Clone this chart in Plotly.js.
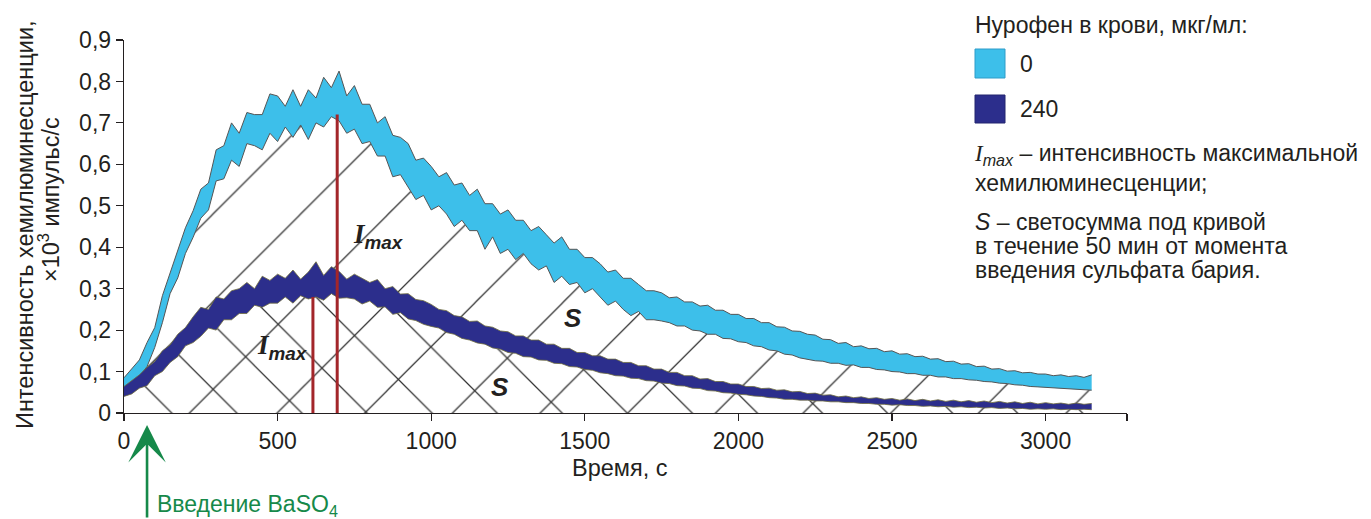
<!DOCTYPE html>
<html><head><meta charset="utf-8">
<script src="https://cdn.plot.ly/plotly-3.0.1.min.js"></script>
<style>html,body{margin:0;padding:0;background:#fff}#chart{width:1371px;height:519px}</style>
</head><body><div id="chart"></div>
<script>
// time, s
const timeSec = [
 0,25,50,75,100,125,150,175,200,225,
 250,275,300,325,350,375,400,425,450,475,
 500,525,550,575,600,625,650,675,700,725,
 750,775,800,825,850,875,900,925,950,975,
 1000,1025,1050,1075,1100,1125,1150,1175,1200,1225,
 1250,1275,1300,1325,1350,1375,1400,1425,1450,1475,
 1500,1525,1550,1575,1600,1625,1650,1675,1700,1725,
 1750,1775,1800,1825,1850,1875,1900,1925,1950,1975,
 2000,2025,2050,2075,2100,2125,2150,2175,2200,2225,
 2250,2275,2300,2325,2350,2375,2400,2425,2450,2475,
 2500,2525,2550,2575,2600,2625,2650,2675,2700,2725,
 2750,2775,2800,2825,2850,2875,2900,2925,2950,2975,
 3000,3025,3050,3075,3100,3125,3150];

// Nurofen 0 mcg/ml: lower and upper edge of the noisy band (x10^3 pulses/s)
const light0Low = [
 0.055,0.068,0.088,0.112,0.158,0.218,0.288,0.326,0.385,0.424,
 0.470,0.490,0.560,0.565,0.610,0.595,0.650,0.645,0.635,0.675,
 0.655,0.690,0.665,0.695,0.660,0.700,0.690,0.715,0.705,0.675,
 0.685,0.650,0.655,0.620,0.620,0.570,0.575,0.545,0.515,0.525,
 0.490,0.500,0.480,0.450,0.465,0.440,0.440,0.395,0.425,0.385,
 0.395,0.370,0.385,0.360,0.345,0.355,0.315,0.330,0.310,0.315,
 0.290,0.300,0.280,0.260,0.270,0.250,0.235,0.245,0.225,0.225,
 0.222,0.218,0.210,0.210,0.200,0.198,0.190,0.190,0.180,0.179,
 0.172,0.170,0.162,0.160,0.152,0.150,0.142,0.140,0.133,0.130,
 0.126,0.125,0.120,0.120,0.115,0.116,0.110,0.110,0.105,0.104,
 0.100,0.099,0.095,0.095,0.091,0.091,0.087,0.087,0.083,0.083,
 0.080,0.079,0.076,0.075,0.072,0.071,0.068,0.067,0.064,0.063,
 0.062,0.060,0.060,0.058,0.058,0.056,0.055];
const light0High = [
 0.085,0.106,0.128,0.170,0.206,0.283,0.338,0.394,0.447,0.488,
 0.540,0.555,0.635,0.645,0.700,0.675,0.725,0.720,0.720,0.770,
 0.765,0.740,0.780,0.740,0.780,0.760,0.810,0.785,0.825,0.765,
 0.790,0.745,0.745,0.700,0.715,0.670,0.665,0.650,0.610,0.615,
 0.595,0.570,0.580,0.550,0.555,0.525,0.540,0.505,0.505,0.480,
 0.490,0.465,0.465,0.440,0.450,0.430,0.410,0.425,0.395,0.395,
 0.375,0.375,0.360,0.340,0.345,0.325,0.325,0.310,0.295,0.295,
 0.290,0.278,0.280,0.268,0.268,0.258,0.260,0.248,0.248,0.238,
 0.238,0.228,0.228,0.218,0.218,0.208,0.207,0.198,0.197,0.190,
 0.188,0.178,0.177,0.168,0.170,0.160,0.162,0.155,0.156,0.148,
 0.150,0.142,0.143,0.136,0.137,0.130,0.131,0.124,0.125,0.118,
 0.119,0.112,0.113,0.106,0.107,0.101,0.102,0.097,0.098,0.094,
 0.094,0.090,0.092,0.088,0.090,0.086,0.092];

// Nurofen 240 mcg/ml
const dose240Low = [
 0.040,0.046,0.060,0.066,0.090,0.100,0.122,0.136,0.162,0.170,
 0.185,0.205,0.200,0.225,0.225,0.240,0.240,0.260,0.255,0.265,
 0.265,0.280,0.265,0.283,0.275,0.280,0.272,0.288,0.277,0.278,
 0.275,0.263,0.270,0.255,0.256,0.238,0.242,0.227,0.223,0.214,
 0.209,0.205,0.194,0.190,0.180,0.176,0.169,0.166,0.157,0.154,
 0.146,0.144,0.136,0.135,0.128,0.127,0.120,0.119,0.112,0.111,
 0.105,0.103,0.097,0.095,0.090,0.089,0.084,0.083,0.078,0.077,
 0.072,0.071,0.066,0.065,0.060,0.059,0.054,0.053,0.049,0.048,
 0.045,0.044,0.041,0.040,0.037,0.036,0.033,0.033,0.031,0.031,
 0.029,0.029,0.027,0.027,0.025,0.025,0.023,0.023,0.021,0.021,
 0.019,0.020,0.018,0.018,0.016,0.017,0.015,0.016,0.014,0.015,
 0.013,0.014,0.012,0.013,0.011,0.012,0.010,0.011,0.009,0.010,
 0.009,0.010,0.008,0.009,0.008,0.009,0.008];
const dose240High = [
 0.064,0.078,0.092,0.110,0.124,0.150,0.164,0.190,0.206,0.232,
 0.255,0.250,0.280,0.275,0.295,0.300,0.315,0.300,0.330,0.320,
 0.335,0.325,0.345,0.323,0.340,0.365,0.332,0.353,0.342,0.323,
 0.335,0.325,0.315,0.322,0.300,0.305,0.287,0.288,0.274,0.271,
 0.262,0.250,0.247,0.235,0.232,0.221,0.222,0.210,0.207,0.198,
 0.196,0.186,0.186,0.176,0.176,0.166,0.166,0.156,0.156,0.146,
 0.146,0.138,0.138,0.130,0.130,0.122,0.122,0.114,0.114,0.106,
 0.106,0.098,0.098,0.090,0.090,0.082,0.083,0.076,0.076,0.070,
 0.070,0.064,0.064,0.059,0.060,0.055,0.056,0.051,0.052,0.047,
 0.048,0.043,0.044,0.039,0.041,0.037,0.039,0.035,0.037,0.033,
 0.035,0.031,0.034,0.030,0.033,0.029,0.032,0.028,0.031,0.027,
 0.030,0.026,0.029,0.025,0.028,0.024,0.027,0.023,0.026,0.022,
 0.025,0.022,0.024,0.021,0.024,0.021,0.023];

// I max markers: time of maximum and its intensity (dose 0, dose 240)
const imaxTime = [694, 615];
const imaxValue = [0.72, 0.28];

const xTickVals = [0, 500, 1000, 1500, 2000, 2500, 3000, 3265];
const xTickText = ['0', '500', '1000', '1500', '2000', '2500', '3000', ''];
const yTickVals = [0, 0.1, 0.2, 0.3, 0.4, 0.5, 0.6, 0.7, 0.8, 0.9];
const yTickText = ['0', '0,1', '0,2', '0,3', '0,4', '0,5', '0,6', '0,7', '0,8', '0,9'];
const injectionTime = 75;

const FONT = '"Liberation Sans", Arial, sans-serif';
const SERIF = 'Liberation Serif';
const INK = '#231f20';
const CYAN = '#3dbfea';
const NAVY = '#2c2e8c';
const RED = '#a3262a';
const GREEN = '#16894a';

const base = {type: 'scatter', mode: 'lines', x: timeSec, hoverinfo: 'skip', showlegend: false};
const traces = [
  Object.assign({}, base, {y: light0Low, line: {width: 0}, fill: 'tozeroy', fillcolor: 'rgba(0,0,0,0)',
    fillpattern: {shape: '/', size: 62, solidity: 0.02, fgcolor: '#333333', bgcolor: 'rgba(0,0,0,0)', fillmode: 'replace'}}),
  Object.assign({}, base, {y: dose240Low, line: {width: 0}, fill: 'tozeroy', fillcolor: 'rgba(0,0,0,0)',
    fillpattern: {shape: '\\', size: 46, solidity: 0.027, fgcolor: '#333333', bgcolor: 'rgba(0,0,0,0)', fillmode: 'replace'}}),
  Object.assign({}, base, {y: light0Low, line: {color: '#555555', width: 1}}),
  Object.assign({}, base, {y: light0High, line: {color: '#555555', width: 1}, fill: 'tonexty', fillcolor: CYAN}),
  Object.assign({}, base, {y: dose240Low, line: {color: '#6d6b3c', width: 0.8}}),
  Object.assign({}, base, {y: dose240High, line: {color: '#6d6b3c', width: 0.8}, fill: 'tonexty', fillcolor: NAVY})
];
imaxTime.forEach(function (t, i) {
  traces.push({type: 'scatter', mode: 'lines', x: [t, t], y: [0, imaxValue[i]],
    line: {color: RED, width: 3}, hoverinfo: 'skip', showlegend: false});
});

const px = function (X) { return (X - 124) / 1003; };
const py = function (Y) { return (413 - Y) / 373; };

const txt = function (text, X, Y, opts) {
  return Object.assign({xref: 'paper', yref: 'paper', x: px(X), y: py(Y), text: text, showarrow: false,
    xanchor: 'left', yanchor: 'middle', font: {family: FONT, size: 23, color: INK}}, opts || {});
};

const imaxLabel = '<b><i><span style="font-family:' + SERIF + '">I</span><sub>max</sub></i></b>';

const annotations = [
  // y-axis title (two lines)
  txt('Интенсивность хемилюминесценции,', 25, 225, {xanchor: 'center', textangle: -90, font: {family: FONT, size: 23.5, color: INK}}),
  txt('×10<sup>3</sup> импульс/с', 49, 200, {xanchor: 'center', textangle: -90, font: {family: FONT, size: 23.5, color: INK}}),
  // x-axis title
  txt('Время, с', 620, 468, {xanchor: 'center', font: {family: FONT, size: 23.5, color: INK}}),
  // labels in plot
  {xref: 'x', yref: 'y', x: 827, y: 0.428, text: imaxLabel, showarrow: false, font: {family: FONT, size: 27, color: INK}},
  {xref: 'x', yref: 'y', x: 515, y: 0.16, text: imaxLabel, showarrow: false, font: {family: FONT, size: 27, color: INK}},
  {xref: 'x', yref: 'y', x: 1463, y: 0.23, text: '<b><i>S</i></b>', showarrow: false, font: {family: FONT, size: 26, color: INK}},
  {xref: 'x', yref: 'y', x: 1225, y: 0.062, text: '<b><i>S</i></b>', showarrow: false, font: {family: FONT, size: 26, color: INK}},
  // injection arrow
  {xref: 'x', yref: 'paper', x: injectionTime, y: py(425), ax: 0, ay: 96, axref: 'pixel', ayref: 'pixel',
    text: '', showarrow: true, arrowhead: 3, arrowsize: 2.4, arrowwidth: 2.6, arrowcolor: GREEN},
  txt('Введение BaSO<sub>4</sub>', 155, 505, {font: {family: FONT, size: 23, color: GREEN}}),
  // legend
  txt('Нурофен в крови, мкг/мл:', 973, 25),
  txt('0', 1018, 64),
  txt('240', 1018, 109),
  txt('<i><span style="font-family:' + SERIF + '">I</span><sub>max</sub></i> – интенсивность максимальной', 972, 154),
  txt('хемилюминесценции;', 973, 183),
  txt('<i>S</i> – светосумма под кривой', 973, 222),
  txt('в течение 50 мин от момента', 973, 246),
  txt('введения сульфата бария.', 973, 270)
];

const shapes = [
  {type: 'rect', xref: 'paper', yref: 'paper', x0: px(975), x1: px(1005), y0: py(78), y1: py(49),
    fillcolor: CYAN, line: {color: '#2f9cc9', width: 1}},
  {type: 'rect', xref: 'paper', yref: 'paper', x0: px(975), x1: px(1005), y0: py(123), y1: py(95),
    fillcolor: NAVY, line: {color: '#23256f', width: 1}}
];

const axisCommon = {ticks: 'outside', ticklen: 7, tickwidth: 1.2, tickcolor: INK, showline: true,
  linecolor: INK, linewidth: 1.3, showgrid: false, zeroline: false, fixedrange: true,
  tickfont: {family: FONT, size: 23, color: INK}};

const layout = {
  width: 1371, height: 519,
  margin: {l: 124, r: 244, t: 40, b: 106, pad: 0},
  paper_bgcolor: '#ffffff', plot_bgcolor: 'rgba(0,0,0,0)',
  showlegend: false,
  xaxis: Object.assign({}, axisCommon, {range: [0, 3265], tickmode: 'array', tickvals: xTickVals, ticktext: xTickText}),
  yaxis: Object.assign({}, axisCommon, {range: [0, 0.9], tickmode: 'array', tickvals: yTickVals, ticktext: yTickText}),
  annotations: annotations,
  shapes: shapes
};

Plotly.newPlot('chart', traces, layout, {displayModeBar: false, staticPlot: true});
</script>
</body></html>
